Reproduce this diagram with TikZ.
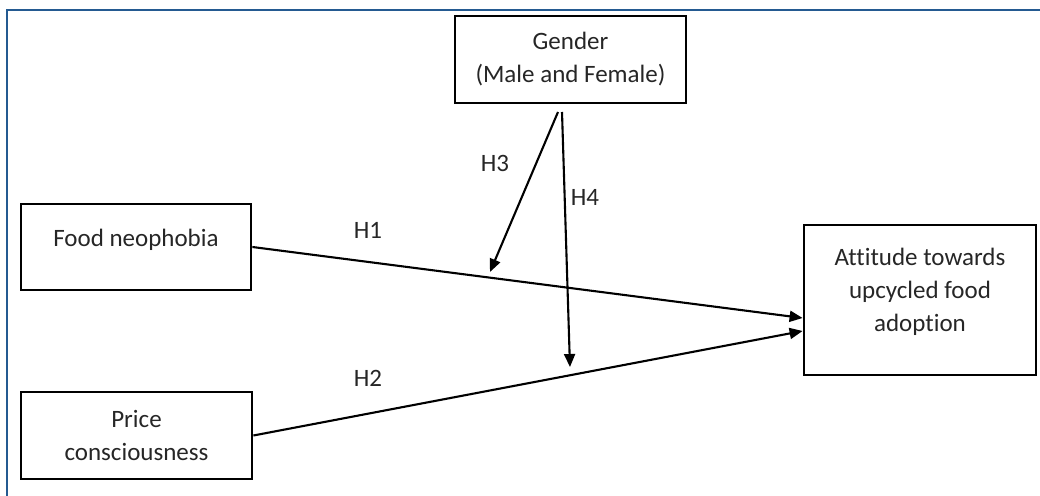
\documentclass[tikz,border=0pt]{standalone}
\usepackage{fontspec}
\setmainfont{Carlito}[Ligatures=NoCommon]
\usetikzlibrary{arrows.meta, positioning}
\definecolor{frameblue}{RGB}{36,90,145}

\begin{document}
\begin{tikzpicture}[x=0.5pt,y=-0.5pt,>={Triangle[length=6.5pt,width=5.5pt]},
    every node/.style={font=\fontsize{12.5}{16.5}\selectfont, text=black!85},
    box/.style={draw, line width=1.4pt, align=center, inner sep=0pt},
    link/.style={->, line width=1.05pt}]
  \useasboundingbox (0,0) rectangle (1040,496);
  \draw[frameblue, line width=1pt] (1040,10) -- (7,10) -- (7,496);

  \node[box, minimum width=115.5pt, minimum height=43.5pt] (gender) at (570.5,59.5) {Gender\\(Male and Female)};
  \node[box, minimum width=115pt, minimum height=43pt] (food) at (136,247) {Food neophobia\\[-7.5pt]\mbox{}};
  \node[box, minimum width=115.5pt, minimum height=43.5pt] (price) at (136.5,435.5) {Price\\consciousness};
  \node[box, minimum width=116pt, minimum height=75pt] (att) at (920,300) {Attitude towards\\upcycled food\\adoption\\[-6pt]\mbox{}};

  \coordinate (h3s) at (558,112);
  \coordinate (h3e) at (490,272);
  \coordinate (h4s) at (562,112);
  \coordinate (h4e) at (570,367);

  \draw[link] (food.east) -- ([yshift=-9pt]att.west);
  \draw[link] (price.east) -- ([yshift=-15.5pt]att.west);
  \draw[link] (h3s) -- (h3e);
  \draw[link] (h4s) -- (h4e);

  \node (h1) at (368,230) {H1};
  \node (h2) at (368,378) {H2};
  \node (h3) at (495,163) {H3};
  \node (h4) at (585,197) {H4};
\end{tikzpicture}
\end{document}
